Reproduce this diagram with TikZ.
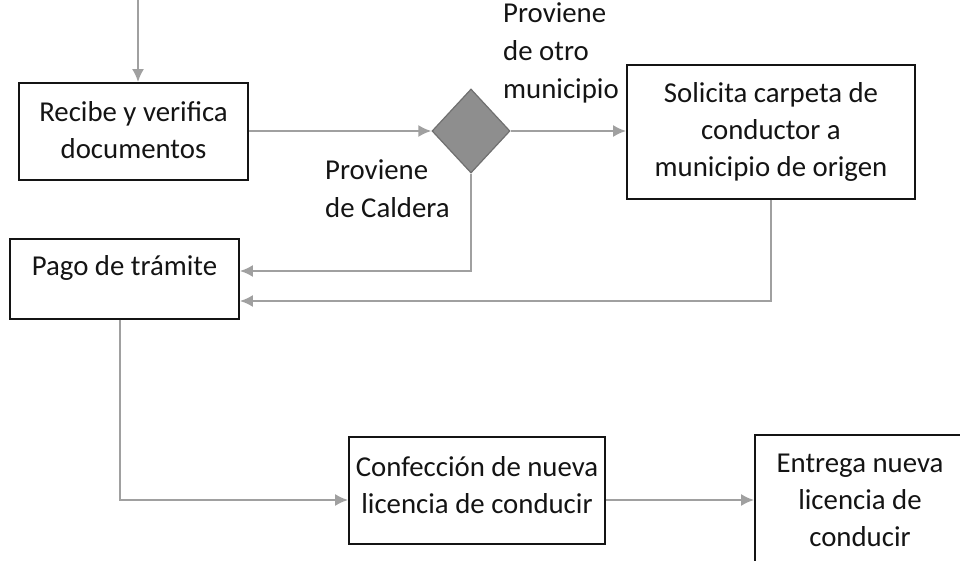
\documentclass[tikz,border=0pt]{standalone}
\usepackage{fontspec}
\setmainfont{Carlito}
\usetikzlibrary{shapes.geometric,arrows.meta}
\definecolor{linegray}{HTML}{A0A0A0}
\definecolor{diafill}{HTML}{8E8E8E}
\definecolor{diaedge}{HTML}{707070}
\definecolor{ink}{HTML}{141414}
\tikzset{
  procbox/.style={draw=ink, line width=1.7pt, fill=white, inner sep=0pt},
  txt/.style={text=ink, align=center, font=\fontsize{28.8}{37}\selectfont, inner sep=0pt},
  ltxt/.style={text=ink, align=left, font=\fontsize{28.8}{38}\selectfont, inner sep=0pt},
  flow/.style={draw=linegray, line width=2.2pt, -{Latex[length=13pt,width=12pt]}},
  decision/.style={diamond, draw=diaedge, line width=1.2pt, fill=diafill, inner sep=0pt, minimum width=78pt, minimum height=84pt}
}
\begin{document}
\begin{tikzpicture}[x=1pt,y=-1pt]
\useasboundingbox (0,0) rectangle (960,561);
\clip (0,0) rectangle (960,561);
% boxes
\node[procbox, minimum width=229pt, minimum height=97pt] (rec) at (133.5,131.5) {};
\node[txt] (recT) at (133.5,130) {Recibe y verifica\\documentos};
\node[decision] (dia) at (471,131) {};
\node[procbox, minimum width=288pt, minimum height=134pt] (sol) at (771,132) {};
\node[txt] (solT) at (771,132) {Solicita carpeta de\\conductor a\\municipio de origen};
\node[procbox, minimum width=229pt, minimum height=80pt] (pago) at (124.5,279) {};
\node[txt] (pagoT) at (124.5,268) {Pago de trámite};
\node[procbox, minimum width=256pt, minimum height=107pt] (conf) at (477,490.5) {};
\node[txt] (confT) at (477,485) {Confección de nueva\\licencia de conducir};
\node[procbox, minimum width=240pt, minimum height=150pt] (ent) at (875,510) {};
\node[txt] (entT) at (860,500) {Entrega nueva\\licencia de\\conducir};
% labels
\node[ltxt, anchor=north west] (lblOtro) at (503,2) {Proviene\\de otro\\municipio};
\node[ltxt, anchor=north west] (lblCal) at (325,159) {Proviene\\de Caldera};
% connectors
\coordinate (top) at (138,0);
\draw[flow] (top) -- (top |- rec.north);
\draw[flow] (rec.east |- dia) -- (dia.west);
\draw[flow] (dia.east) -- (dia.east -| sol.west);
\coordinate (y1) at (0,271);
\draw[flow] (dia.south) |- (y1 -| pago.east);
\coordinate (y2) at (0,301);
\draw[flow] (sol.south) |- (y2 -| pago.east);
\coordinate (x3) at (120,0);
\coordinate (y3) at (0,500);
\draw[flow] (x3 |- pago.south) |- (y3 -| conf.west);
\draw[flow] (y3 -| conf.east) -- (y3 -| ent.west);
\end{tikzpicture}
\end{document}
